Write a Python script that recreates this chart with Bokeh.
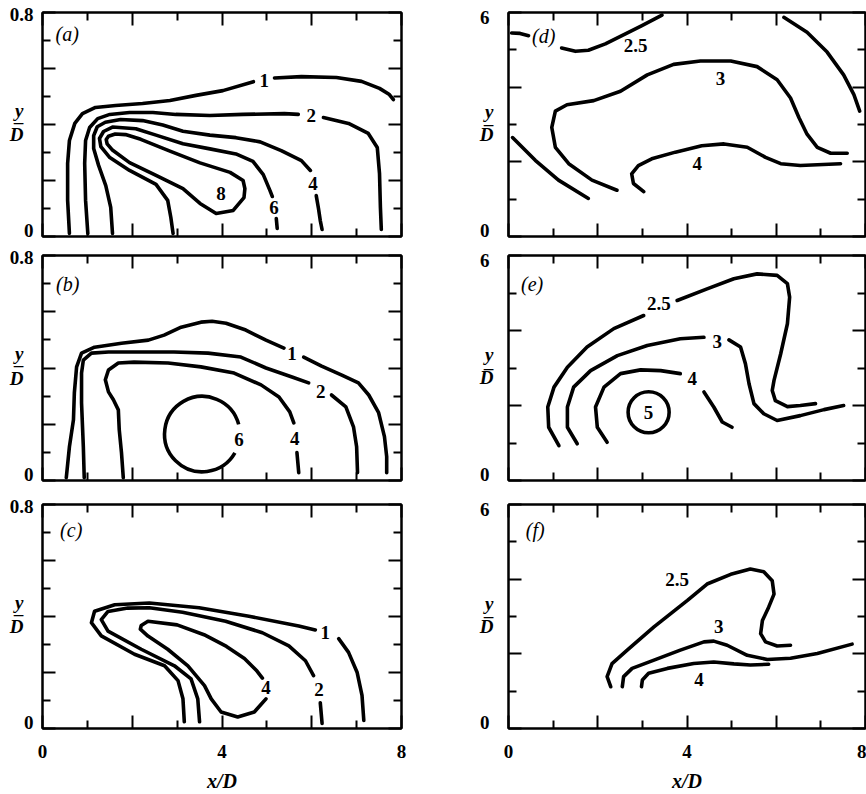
from bokeh.plotting import figure
from bokeh.models import LinearAxis, FixedTicker
from bokeh.layouts import column, row
from bokeh.core.properties import value
from bokeh.embed import file_html
from bokeh.resources import INLINE

SERIF = "Liberation Serif"

# ---- axes -------------------------------------------------------------
X_TICKS = [0, 2, 4, 6, 8]
X_MINOR = [1, 3, 5, 7]
X_LABEL_AT = [0, 4, 8]
X_LABELS = ["0", "4", "8"]

SHALLOW_Y_TICKS = [0, 0.2, 0.4, 0.6, 0.8]
SHALLOW_Y_MINOR = [0.1, 0.3, 0.5, 0.7]
# numbers sit just inside the ends of the range
SHALLOW_Y_LABEL_AT = [0.021, 0.793]
SHALLOW_Y_LABELS = ["0", "0.8"]
# stacked y/D fraction: numerator, bar, denominator
SHALLOW_FRAC_AT = [0.450, 0.412, 0.363]

DEEP_Y_TICKS = [0, 2, 4, 6]
DEEP_Y_MINOR = [1, 3, 5]
DEEP_Y_LABEL_AT = [0.16, 5.87]
DEEP_Y_LABELS = ["0", "6"]
DEEP_FRAC_AT = [3.35, 3.02, 2.74]

FRAC_TEXT = ["y", "\u2013", "D"]

# ---- panel (a): contour segments (x, y), broken where a level is labelled
A_LEVEL_1 = [
    ([0.60, 0.56, 0.56, 0.60, 0.72, 0.89, 1.18, 1.63, 2.23, 2.84, 3.42, 4.02, 4.70],
     [0.011, 0.129, 0.261, 0.343, 0.404, 0.439, 0.461, 0.468, 0.475, 0.486, 0.504, 0.521, 0.553]),
    ([5.17, 5.77, 6.55, 7.11, 7.51, 7.73, 7.82],
     [0.566, 0.571, 0.568, 0.554, 0.529, 0.507, 0.489]),
]
A_LEVEL_2 = [
    ([1.01, 0.96, 0.94, 0.96, 1.05, 1.23, 1.50, 1.94, 2.46, 2.97, 3.73, 4.47, 5.39, 5.70],
     [0.011, 0.129, 0.261, 0.343, 0.389, 0.421, 0.436, 0.443, 0.443, 0.436, 0.432, 0.436, 0.439, 0.436]),
    ([6.26, 6.82, 7.26, 7.46, 7.51, 7.53, 7.55],
     [0.425, 0.404, 0.368, 0.318, 0.225, 0.104, 0.025]),
]
A_LEVEL_4 = [
    ([1.56, 1.52, 1.41, 1.25, 1.14, 1.14, 1.22, 1.40, 1.74, 2.23, 2.68, 3.13, 3.73, 4.31, 4.85, 5.32, 5.77, 5.97],
     [0.011, 0.104, 0.182, 0.254, 0.314, 0.360, 0.392, 0.408, 0.418, 0.414, 0.398, 0.376, 0.362, 0.353, 0.338, 0.307, 0.271, 0.236]),
    ([6.10, 6.15, 6.19, 6.23],
     [0.146, 0.100, 0.057, 0.025]),
]
A_LEVEL_6 = [
    ([2.91, 2.86, 2.79, 2.53, 1.94, 1.50, 1.30, 1.27, 1.36, 1.56, 2.08, 2.53, 3.13, 3.73, 4.31, 4.69, 4.92, 5.07, 5.12],
     [0.011, 0.068, 0.129, 0.186, 0.236, 0.282, 0.321, 0.350, 0.375, 0.391, 0.385, 0.362, 0.331, 0.313, 0.295, 0.268, 0.221, 0.164, 0.143]),
    ([5.21, 5.23],
     [0.064, 0.029]),
]
A_LEVEL_8 = [
    ([1.42, 1.47, 1.62, 1.85, 2.19, 2.84, 3.51, 4.18, 4.47, 4.51, 4.49, 4.25, 3.87, 3.51, 3.13, 2.53, 1.94, 1.55, 1.44, 1.42],
     [0.346, 0.358, 0.366, 0.364, 0.347, 0.305, 0.263, 0.229, 0.200, 0.171, 0.139, 0.093, 0.082, 0.118, 0.171, 0.218, 0.264, 0.310, 0.331, 0.346]),
]
A_TEXT = ["1", "2", "4", "6", "8"]
A_TEXT_X = [4.94, 5.99, 6.03, 5.16, 3.98]
A_TEXT_Y = [0.557, 0.432, 0.190, 0.104, 0.154]

# ---- panel (b)
B_LEVEL_1 = [
    ([0.53, 0.60, 0.69, 0.71, 0.76, 0.87, 1.16, 1.76, 2.36, 2.71, 3.09, 3.53, 3.78, 4.09, 4.53, 4.98, 5.38],
     [0.010, 0.120, 0.216, 0.312, 0.404, 0.453, 0.474, 0.488, 0.499, 0.517, 0.545, 0.563, 0.566, 0.559, 0.535, 0.499, 0.471]),
    ([5.82, 6.22, 6.67, 7.04, 7.27, 7.49, 7.62, 7.67, 7.67],
     [0.439, 0.407, 0.375, 0.347, 0.304, 0.241, 0.156, 0.085, 0.028]),
]
B_LEVEL_2 = [
    ([0.93, 0.91, 0.87, 0.87, 0.91, 1.09, 1.47, 2.20, 2.93, 3.69, 4.42, 4.98, 5.56, 5.93],
     [0.010, 0.120, 0.276, 0.382, 0.428, 0.453, 0.457, 0.457, 0.457, 0.453, 0.439, 0.400, 0.368, 0.347]),
    ([6.44, 6.76, 6.93, 7.00, 7.02],
     [0.304, 0.262, 0.191, 0.120, 0.028]),
]
B_LEVEL_4 = [
    ([1.80, 1.76, 1.71, 1.69, 1.58, 1.47, 1.40, 1.47, 1.69, 2.04, 2.80, 3.53, 4.27, 4.87, 5.27, 5.51, 5.60],
     [0.010, 0.099, 0.181, 0.251, 0.287, 0.315, 0.358, 0.393, 0.418, 0.421, 0.418, 0.404, 0.382, 0.340, 0.297, 0.244, 0.205]),
    ([5.67, 5.71],
     [0.099, 0.028]),
]
# level 6 is a ring, open on its right side where it is labelled
B_RING_X, B_RING_Y, B_RING_R = 3.56, 0.165, 0.84
B_RING_FROM, B_RING_TO = 0.26, 5.76
B_TEXT = ["1", "2", "4", "6"]
B_TEXT_X = [5.56, 6.20, 5.62, 4.38]
B_TEXT_Y = [0.453, 0.315, 0.149, 0.145]

# ---- panel (c)
C_LEVEL_1 = [
    ([3.16, 3.13, 3.02, 2.72, 2.05, 1.31, 1.09, 1.16, 1.61, 2.38, 3.49, 4.60, 5.71, 6.08],
     [0.024, 0.106, 0.171, 0.224, 0.265, 0.331, 0.378, 0.419, 0.442, 0.448, 0.431, 0.401, 0.366, 0.352]),
    ([6.60, 6.82, 7.01, 7.12, 7.16],
     [0.321, 0.272, 0.201, 0.118, 0.029]),
]
C_LEVEL_2 = [
    ([3.50, 3.46, 3.31, 2.94, 2.20, 1.46, 1.31, 1.46, 1.90, 2.38, 3.12, 4.08, 4.90, 5.49, 5.86, 6.04],
     [0.024, 0.106, 0.177, 0.224, 0.283, 0.348, 0.389, 0.418, 0.430, 0.431, 0.415, 0.383, 0.342, 0.295, 0.242, 0.189]),
    ([6.19, 6.23],
     [0.092, 0.018]),
]
C_LEVEL_4 = [
    ([4.98, 4.72, 4.35, 3.98, 3.76, 3.61, 3.24, 2.79, 2.35, 2.18, 2.20, 2.35, 3.00, 3.60, 4.10, 4.50, 4.78, 4.90],
     [0.106, 0.059, 0.041, 0.059, 0.106, 0.153, 0.224, 0.283, 0.330, 0.355, 0.368, 0.383, 0.370, 0.335, 0.293, 0.250, 0.205, 0.180]),
]
C_TEXT = ["1", "2", "4"]
C_TEXT_X = [6.30, 6.16, 4.98]
C_TEXT_Y = [0.344, 0.139, 0.147]

# ---- panel (d)
D_LEVEL_25 = [
    ([0.07, 0.26, 0.45], [5.45, 5.44, 5.38]),
    ([1.19, 1.50, 1.79, 2.17, 2.62, 2.99, 3.44], [5.05, 4.96, 4.99, 5.16, 5.43, 5.65, 5.93]),
]
D_LEVEL_OTHER = [
    ([6.17, 6.69, 7.14, 7.51, 7.74, 7.87], [5.87, 5.47, 4.94, 4.33, 3.80, 3.36]),
    ([0.09, 0.60, 1.12, 1.79], [2.65, 2.04, 1.51, 1.02]),
]
D_LEVEL_3 = [
    ([7.59, 7.22, 6.92, 6.69, 6.51, 6.32, 6.02, 5.57, 4.98, 4.30, 3.70, 3.11, 2.51, 1.91, 1.31, 1.05, 0.97, 1.05, 1.35, 1.87, 2.43],
     [2.23, 2.23, 2.39, 2.74, 3.18, 3.71, 4.20, 4.55, 4.70, 4.70, 4.61, 4.33, 3.89, 3.64, 3.53, 3.36, 2.92, 2.39, 1.95, 1.51, 1.24]),
]
D_LEVEL_4 = [
    ([3.03, 2.80, 2.76, 2.91, 3.21, 3.74, 4.33, 4.83, 5.35, 5.76, 6.10, 6.54, 7.44],
     [1.20, 1.42, 1.68, 1.90, 2.08, 2.26, 2.43, 2.48, 2.39, 2.12, 1.95, 1.90, 1.95]),
]
D_TEXT = ["2.5", "3", "4"]
D_TEXT_X = [2.85, 4.75, 4.23]
D_TEXT_Y = [5.12, 4.24, 1.95]

# ---- panel (e)
E_LEVEL_25 = [
    ([1.13, 0.90, 0.88, 1.02, 1.32, 1.76, 2.36, 3.03],
     [0.93, 1.42, 1.96, 2.49, 3.02, 3.56, 4.05, 4.40]),
    ([3.78, 4.45, 5.05, 5.57, 6.02, 6.25, 6.30, 6.25, 6.10, 5.95, 5.91, 5.98, 6.25, 6.54, 6.88],
     [4.80, 5.11, 5.38, 5.51, 5.47, 5.25, 4.89, 4.18, 3.38, 2.67, 2.40, 2.13, 1.97, 2.00, 2.05]),
]
E_LEVEL_3 = [
    ([1.54, 1.32, 1.32, 1.46, 1.84, 2.44, 3.11, 3.85, 4.38],
     [0.98, 1.42, 1.96, 2.49, 2.93, 3.33, 3.60, 3.78, 3.82]),
    ([4.94, 5.20, 5.31, 5.39, 5.50, 5.72, 6.02, 6.54, 7.07, 7.51],
     [3.75, 3.56, 3.11, 2.58, 2.05, 1.78, 1.60, 1.73, 1.89, 2.00]),
]
E_LEVEL_4 = [
    ([2.21, 1.99, 1.95, 2.14, 2.51, 2.96, 3.41, 3.85],
     [1.02, 1.42, 1.96, 2.49, 2.85, 2.95, 2.93, 2.85]),
    ([4.38, 4.60, 4.79, 5.01],
     [2.36, 1.96, 1.56, 1.42]),
]
E_RING_X, E_RING_Y, E_RING_R = 3.14, 1.82, 0.46
E_TEXT = ["2.5", "3", "4", "5"]
E_TEXT_X = [3.37, 4.68, 4.12, 3.14]
E_TEXT_Y = [4.71, 3.72, 2.71, 1.82]

# ---- panel (f)
F_LEVEL_25 = [
    ([2.29, 2.21, 2.32, 2.66, 3.26, 4.01, 4.45, 4.98, 5.42, 5.72, 5.91, 5.95, 5.83, 5.69, 5.65, 5.76, 6.02, 6.32],
     [1.12, 1.39, 1.74, 2.10, 2.72, 3.43, 3.87, 4.13, 4.27, 4.20, 3.96, 3.60, 3.25, 2.89, 2.54, 2.32, 2.21, 2.23]),
]
F_LEVEL_3 = [
    ([2.55, 2.58, 2.77, 3.26, 3.85, 4.38, 4.60, 4.90, 5.35, 5.80, 6.32, 6.92, 7.70],
     [1.12, 1.39, 1.61, 1.83, 2.10, 2.32, 2.34, 2.23, 1.96, 1.85, 1.88, 2.01, 2.26]),
]
F_LEVEL_4 = [
    ([2.98, 3.00, 3.14, 3.56, 4.15, 4.60, 5.05, 5.42, 5.83],
     [1.12, 1.30, 1.48, 1.61, 1.74, 1.78, 1.73, 1.70, 1.72]),
]
F_TEXT = ["2.5", "3", "4"]
F_TEXT_X = [3.78, 4.71, 4.27]
F_TEXT_Y = [4.00, 2.72, 1.30]

# ---- panel tags
TAGS = ["(a)", "(b)", "(c)", "(d)", "(e)", "(f)"]
TAG_X = [0.55, 0.56, 0.64, 0.79, 0.53, 0.60]
TAG_Y = [0.724, 0.700, 0.708, 5.38, 5.245, 5.33]


def tick_axis(ticks, minor):
    """Axis line with inward ticks only."""
    return LinearAxis(
        ticker=FixedTicker(ticks=ticks, minor_ticks=minor),
        axis_line_width=2, axis_line_color="black",
        major_tick_in=13, major_tick_out=0, minor_tick_in=8, minor_tick_out=0,
        major_tick_line_width=2, minor_tick_line_width=2,
        major_tick_line_color="black", minor_tick_line_color="black",
        major_label_text_font_size="0px", major_label_standoff=0,
        major_label_overrides={t: "" for t in ticks},
    )


def label_axis(at, labels, standoff, style="bold", align=None, title=None):
    """Axis that only carries text at given positions (and an optional title)."""
    ax = LinearAxis(
        ticker=FixedTicker(ticks=at, minor_ticks=[]),
        axis_line_color=None, major_tick_line_color=None, minor_tick_line_color=None,
        major_tick_in=0, major_tick_out=0, minor_tick_in=0, minor_tick_out=0,
        major_label_text_font=SERIF, major_label_text_font_style=style,
        major_label_text_font_size="19px", major_label_text_color="black",
        major_label_standoff=standoff,
        major_label_overrides={a: t for a, t in zip(at, labels)},
    )
    if align:
        ax.major_label_text_align = align
    if title:
        ax.axis_label = title
        ax.axis_label_text_font = SERIF
        ax.axis_label_text_font_style = "bold italic"
        ax.axis_label_text_font_size = "20px"
        ax.axis_label_text_color = "black"
        ax.axis_label_standoff = 9
    return ax


def panel(width, height, borders, deep, bottom_labels, y_standoff):
    left, right, top, bottom = borders
    y_top = 6 if deep else 0.8
    p = figure(width=width, height=height, x_range=(0, 8), y_range=(0, y_top),
               x_axis_type=None, y_axis_type=None, toolbar_location=None,
               output_backend="svg", min_border_left=left, min_border_right=right,
               min_border_top=top, min_border_bottom=bottom)
    p.outline_line_color = "black"
    p.outline_line_width = 2
    p.background_fill_color = "white"
    p.border_fill_color = "white"

    if deep:
        yt, ym, at, labels, frac = DEEP_Y_TICKS, DEEP_Y_MINOR, DEEP_Y_LABEL_AT, DEEP_Y_LABELS, DEEP_FRAC_AT
    else:
        yt, ym, at, labels, frac = SHALLOW_Y_TICKS, SHALLOW_Y_MINOR, SHALLOW_Y_LABEL_AT, SHALLOW_Y_LABELS, SHALLOW_FRAC_AT
    p.add_layout(tick_axis(yt, ym), "left")
    p.add_layout(label_axis(at, labels, y_standoff), "left")
    # y/D stacked fraction, pulled back toward the frame over the numbers' column
    p.add_layout(label_axis(frac, FRAC_TEXT, -17, style="bold italic", align="center"), "left")
    p.add_layout(tick_axis(yt, ym), "right")
    p.add_layout(tick_axis(X_TICKS, X_MINOR), "above")
    p.add_layout(tick_axis(X_TICKS, X_MINOR), "below")
    if bottom_labels:
        p.add_layout(label_axis(X_LABEL_AT, X_LABELS, 16, title="x/D"), "below")
    return p


def draw_levels(p, *levels):
    xs, ys = [], []
    for level in levels:
        for sx, sy in level:
            xs.append(sx)
            ys.append(sy)
    p.multi_line(xs, ys, line_color="black", line_width=3.6,
                 line_cap="round", line_join="round")


def draw_text(p, text, tx, ty):
    p.text(x=tx, y=ty, text=text, text_font=value(SERIF), text_font_style="bold",
           text_font_size="19px", text_color="black",
           text_align="center", text_baseline="middle")


def draw_tag(p, i):
    p.text(x=[TAG_X[i]], y=[TAG_Y[i]], text=[TAGS[i]], text_font=value(SERIF),
           text_font_style="italic", text_font_size="20px", text_color="black",
           text_align="center", text_baseline="middle")


pa = panel(440, 245, (42, 39, 12, 9), False, False, 9)
draw_levels(pa, A_LEVEL_1, A_LEVEL_2, A_LEVEL_4, A_LEVEL_6, A_LEVEL_8)
draw_text(pa, A_TEXT, A_TEXT_X, A_TEXT_Y)
draw_tag(pa, 0)

pb = panel(440, 247, (42, 39, 10, 11), False, False, 9)
draw_levels(pb, B_LEVEL_1, B_LEVEL_2, B_LEVEL_4)
pb.arc(x=[B_RING_X], y=[B_RING_Y], radius=B_RING_R, start_angle=B_RING_FROM,
       end_angle=B_RING_TO, line_color="black", line_width=3.6)
draw_text(pb, B_TEXT, B_TEXT_X, B_TEXT_Y)
draw_tag(pb, 1)

pc = panel(440, 302, (42, 39, 12, 64), False, True, 9)
draw_levels(pc, C_LEVEL_1, C_LEVEL_2, C_LEVEL_4)
draw_text(pc, C_TEXT, C_TEXT_X, C_TEXT_Y)
draw_tag(pc, 2)

pd = panel(426, 245, (68, 1, 10, 8), True, False, 19)
draw_levels(pd, D_LEVEL_25, D_LEVEL_OTHER, D_LEVEL_3, D_LEVEL_4)
draw_text(pd, D_TEXT, D_TEXT_X, D_TEXT_Y)
draw_tag(pd, 3)

pe = panel(426, 247, (68, 1, 10, 12), True, False, 19)
draw_levels(pe, E_LEVEL_25, E_LEVEL_3, E_LEVEL_4)
pe.circle(x=[E_RING_X], y=[E_RING_Y], radius=E_RING_R, fill_color=None,
          line_color="black", line_width=3.6)
draw_text(pe, E_TEXT, E_TEXT_X, E_TEXT_Y)
draw_tag(pe, 4)

pf = panel(426, 302, (68, 1, 11, 65), True, True, 19)
draw_levels(pf, F_LEVEL_25, F_LEVEL_3, F_LEVEL_4)
draw_text(pf, F_TEXT, F_TEXT_X, F_TEXT_Y)
draw_tag(pf, 5)

layout = column(row(pa, pd), row(pb, pe), row(pc, pf))

with open("out.html", "w") as fh:
    fh.write(file_html(layout, INLINE))
